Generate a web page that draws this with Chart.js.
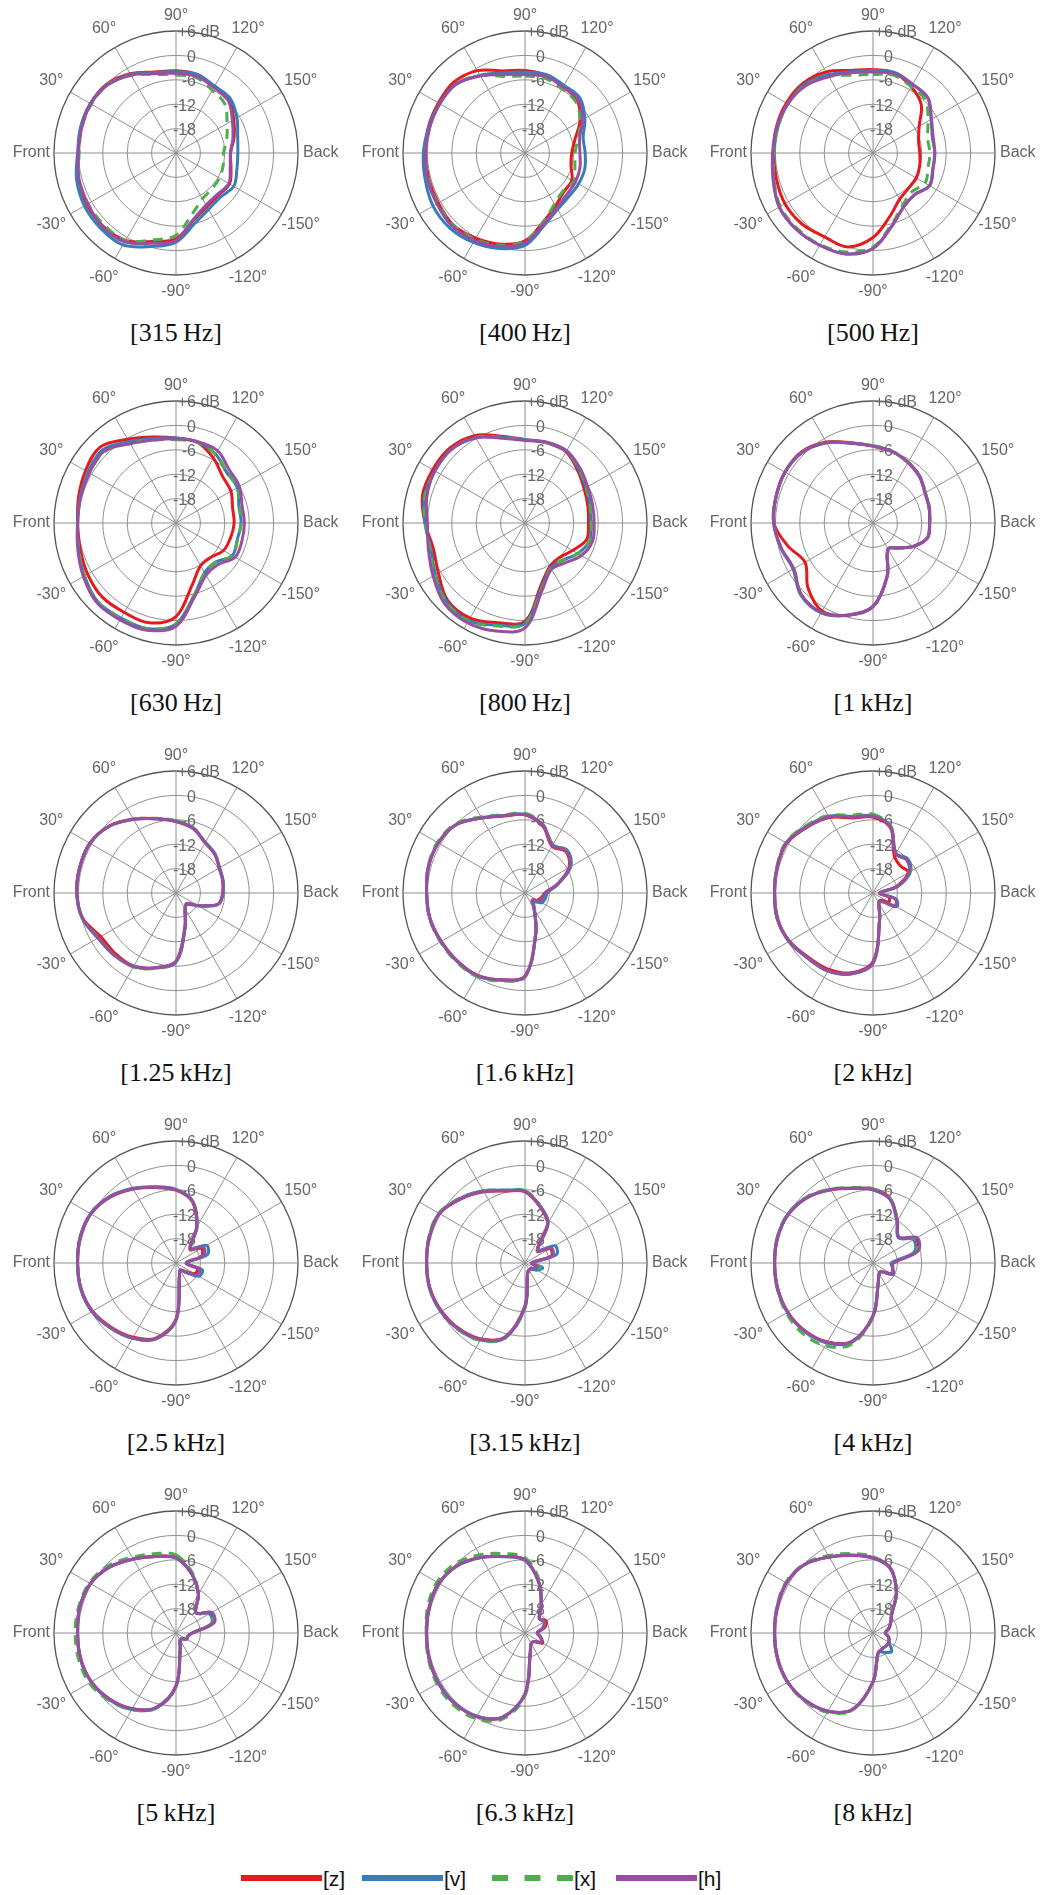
<!DOCTYPE html>
<html>
<head>
<meta charset="utf-8">
<script src="https://cdn.jsdelivr.net/npm/chart.js@4.4.1/dist/chart.umd.min.js"></script>
<style>
  html, body { margin: 0; padding: 0; background: #fff; }
  body { width: 1045px; height: 1895px; position: relative; overflow: hidden; }
  canvas.polar { position: absolute; }
  .title { position: absolute; width: 300px; text-align: center; font-family: "Liberation Serif", "Times New Roman", serif; font-size: 26px; line-height: 30px; color: #111; white-space: nowrap; }
  #legend { position: absolute; left: 0; top: 1858px; }
</style>
</head>
<body>
<svg id="legend" width="1045" height="37"></svg>
<script>
// Measurement directions in degrees, clockwise from the top of each plot
const angles = [90, 105, 120, 135, 150, 165, 180, -165, -150, -135, -120, -105, -90, -75, -60, -45, -30, -15, 0, 15, 30, 45, 60, 75];
// Radial rings in dB
const ringValues = [6, 0, -6, -12, -18];
const ringText = ['+6', '0', '-6', '-12', '-18'];
const bands = ['315\u2009Hz', '400\u2009Hz', '500\u2009Hz', '630\u2009Hz', '800\u2009Hz', '1\u2009kHz', '1.25\u2009kHz', '1.6\u2009kHz', '2\u2009kHz', '2.5\u2009kHz', '3.15\u2009kHz', '4\u2009kHz', '5\u2009kHz', '6.3\u2009kHz', '8\u2009kHz'];
const seriesNames = ['[z]', '[v]', '[x]', '[h]'];

// Level per direction (dB), one array per band and axis
const f315_z = [-3.8, -4.0, -5.2, -5.5, -7.6, -9.2, -10.6, -10.0, -8.8, -9.3, -8.8, -7.0, -2.9, -1.5, 0.8, 1.4, 1.3, 0.8, 0.0, 0.2, 0.3, 0.0, -1.5, -3.4];
const f315_v = [-4.0, -4.0, -5.0, -5.1, -6.7, -8.3, -8.8, -8.5, -7.6, -8.6, -8.0, -6.1, -2.1, -0.2, 2.1, 2.2, 2.0, 1.3, 0.2, 0.3, 0.3, -0.2, -1.7, -3.5];
const f315_x = [-4.8, -4.8, -6.2, -7.0, -9.5, -11.1, -12.3, -12.0, -11.7, -11.5, -11.0, -8.5, -3.8, -1.9, 0.8, 1.0, 1.0, 0.7, -0.2, 0.0, 0.0, -0.2, -1.9, -4.0];
const f315_h = [-4.4, -4.5, -5.4, -5.8, -8.0, -9.5, -10.6, -10.2, -9.0, -9.6, -9.2, -7.2, -2.5, -1.0, 1.2, 1.6, 1.0, 0.7, 0.0, 0.0, 0.2, -0.3, -1.9, -3.8];

const f400_z = [-3.7, -4.2, -5.2, -5.8, -8.4, -11.3, -12.5, -12.3, -10.7, -10.5, -9.0, -6.5, -2.4, -0.8, 0.2, 1.0, 0.6, 0.5, 0.5, 0.6, 0.6, 0.7, -0.6, -3.1];
const f400_v = [-4.1, -4.0, -4.8, -4.9, -7.0, -9.2, -9.2, -8.8, -8.8, -8.8, -8.0, -5.6, -1.3, 0.3, 1.4, 2.1, 2.1, 1.4, 1.0, 0.5, 0.3, -0.1, -1.9, -3.6];
const f400_x = [-5.1, -5.0, -5.8, -6.3, -8.3, -10.5, -11.7, -11.3, -10.1, -10.8, -9.5, -6.5, -2.4, -0.5, 0.5, 1.0, 0.8, 0.6, 0.5, 0.3, 0.2, 0.0, -2.0, -4.5];
const f400_h = [-4.7, -4.5, -5.3, -5.4, -7.7, -10.1, -10.5, -10.0, -9.7, -9.5, -8.4, -6.0, -1.9, -0.2, 0.8, 1.4, 1.0, 0.8, 0.5, 0.3, 0.2, 0.0, -2.1, -4.0];

const f500_z = [-3.5, -3.6, -5.2, -7.2, -10.9, -12.4, -12.5, -12.1, -11.7, -11.7, -10.9, -7.9, -3.2, -0.1, -0.2, 0.7, 1.0, 0.6, 0.4, 0.6, 0.6, 0.3, -1.0, -3.0];
const f500_v = [-3.7, -3.5, -4.5, -4.9, -7.5, -8.9, -8.8, -8.8, -8.0, -9.5, -8.8, -5.6, -0.5, 1.7, 2.2, 2.6, 2.6, 1.4, 0.4, 0.3, 0.2, -0.2, -1.8, -3.3];
const f500_x = [-4.7, -4.2, -5.2, -5.7, -8.4, -10.1, -10.0, -10.0, -9.2, -10.5, -9.3, -6.0, -0.9, 1.2, 2.0, 2.3, 2.3, 1.2, 0.4, 0.2, 0.2, -0.4, -2.3, -4.2];
const f500_h = [-4.1, -3.8, -4.5, -4.9, -7.4, -8.7, -8.8, -8.7, -7.9, -9.5, -8.8, -5.6, -0.5, 1.7, 2.2, 2.6, 2.6, 1.4, 0.7, 0.5, 0.2, -0.6, -2.3, -3.6];

const f630_z = [-3.1, -3.5, -5.6, -7.8, -8.4, -9.6, -9.7, -10.1, -10.5, -12.0, -11.9, -8.4, -1.0, 1.4, 1.4, 1.7, 1.1, 0.4, 0.2, 0.8, 1.7, 2.4, -0.2, -2.1];
const f630_v = [-3.1, -3.4, -4.5, -6.4, -6.6, -8.0, -8.0, -8.4, -8.0, -10.3, -9.9, -6.0, 0.8, 2.9, 3.0, 3.3, 2.0, 0.8, 0.2, 0.4, 1.0, 1.5, -0.9, -2.5];
const f630_x = [-3.5, -3.5, -4.5, -6.2, -6.6, -7.8, -8.0, -8.3, -8.0, -10.3, -9.9, -6.0, 0.8, 2.9, 3.0, 3.3, 2.0, 0.8, 0.2, 0.3, 0.6, 0.8, -1.4, -2.9];
const f630_h = [-3.3, -3.3, -3.5, -5.5, -6.0, -7.2, -7.2, -7.2, -7.2, -9.5, -9.2, -5.6, 1.4, 3.3, 3.5, 3.6, 2.3, 1.0, 0.2, 0.3, 0.6, 1.0, -1.5, -2.9];

const f800_z = [-3.5, -3.6, -3.8, -5.7, -7.2, -8.0, -8.4, -8.3, -10.5, -12.0, -11.7, -8.4, 0.2, 1.4, 3.0, 2.9, 0.6, -0.6, 0.6, 2.1, 2.2, 2.1, 0.8, -1.9];
const f800_v = [-3.5, -3.5, -3.6, -5.3, -6.7, -7.5, -7.8, -7.5, -9.0, -11.0, -11.3, -7.8, 0.6, 2.0, 3.7, 3.3, 1.4, 0.0, 0.6, 1.6, 1.6, 1.6, 0.2, -2.2];
const f800_x = [-3.6, -3.5, -3.6, -5.2, -6.6, -7.4, -7.7, -7.5, -9.0, -11.0, -11.2, -7.7, 0.8, 2.2, 3.8, 3.5, 1.6, 0.2, 0.5, 1.5, 1.6, 1.6, 0.3, -2.2];
const f800_h = [-3.7, -3.4, -3.5, -4.9, -6.2, -6.8, -7.0, -6.8, -8.0, -10.1, -10.9, -7.2, 1.8, 3.5, 4.3, 4.0, 2.1, 0.6, 0.0, 1.0, 1.6, 1.6, 0.2, -2.4];

const f1k_z = [-5.1, -5.8, -6.8, -7.8, -9.2, -9.7, -10.1, -10.1, -12.5, -15.3, -16.6, -10.5, -3.4, -0.5, 1.0, -1.4, -4.7, -2.3, 0.4, 0.7, 1.0, 0.8, -1.0, -3.6];
const f1k_v = [-5.0, -5.8, -6.8, -7.8, -9.2, -9.7, -10.1, -10.1, -12.5, -15.3, -16.6, -10.5, -3.5, -0.5, 1.5, 1.1, -1.3, -0.5, 0.4, 0.7, 1.0, 0.6, -1.2, -3.7];
const f1k_x = [-5.0, -5.7, -6.7, -7.7, -9.1, -9.6, -10.0, -10.1, -12.5, -15.3, -16.6, -10.5, -3.5, -0.6, 1.4, 0.9, -1.5, -0.6, 0.4, 0.7, 1.0, 0.6, -1.2, -3.7];
const f1k_h = [-5.1, -5.8, -6.8, -7.8, -9.2, -9.7, -10.1, -10.1, -12.5, -15.3, -16.6, -10.5, -3.5, -0.6, 1.4, 0.9, -1.5, -0.6, 0.4, 0.7, 1.0, 0.6, -1.2, -3.7];

const f1250_z = [-6.4, -7.6, -9.7, -10.5, -11.7, -12.1, -12.5, -13.3, -17.9, -20.3, -19.5, -15.4, -7.2, -5.0, -3.2, -2.9, -2.6, -0.2, 0.4, 0.5, 0.5, -0.7, -3.0, -5.1];
const f1250_v = [-6.3, -7.5, -9.6, -10.4, -11.6, -12.0, -12.4, -13.2, -17.6, -20.0, -19.5, -15.2, -7.0, -4.9, -3.1, -2.4, -1.8, -0.1, 0.4, 0.5, 0.4, -0.8, -3.1, -5.1];
const f1250_x = [-6.2, -7.4, -9.6, -10.4, -11.7, -12.1, -12.5, -13.3, -17.9, -20.3, -19.6, -15.4, -7.1, -4.8, -3.0, -2.5, -2.0, -0.2, 0.4, 0.5, 0.4, -0.8, -3.0, -5.0];
const f1250_h = [-6.4, -7.6, -9.7, -10.5, -11.7, -12.1, -12.5, -13.3, -17.9, -20.3, -19.5, -15.4, -7.2, -5.0, -3.2, -2.5, -1.9, -0.2, 0.4, 0.5, 0.4, -0.8, -3.1, -5.1];

const f1600_z = [-4.8, -7.0, -10.7, -9.7, -11.5, -15.8, -19.1, -19.8, -20.5, -21.5, -19.5, -13.8, -3.6, -1.9, -0.6, -0.4, -0.2, 0.2, 0.2, 0.6, 0.6, -0.2, -2.7, -4.4];
const f1600_v = [-4.7, -6.8, -10.3, -9.2, -11.0, -15.6, -18.5, -18.8, -19.2, -20.8, -19.3, -13.6, -3.5, -1.8, -0.5, -0.3, -0.1, 0.2, 0.2, 0.6, 0.7, -0.1, -2.6, -4.3];
const f1600_x = [-4.4, -6.6, -10.3, -9.4, -11.3, -15.8, -19.1, -19.6, -20.0, -21.5, -19.5, -13.8, -3.3, -1.6, -0.3, -0.1, 0.0, 0.3, 0.2, 0.7, 0.9, 0.1, -2.4, -4.1];
const f1600_h = [-4.7, -6.8, -10.5, -9.5, -11.3, -15.8, -19.1, -19.5, -20.0, -21.5, -19.5, -13.8, -3.5, -1.9, -0.6, -0.4, -0.2, 0.2, 0.2, 0.6, 0.6, -0.2, -2.7, -4.3];

const f2k_z = [-5.3, -7.4, -13.5, -14.5, -14.0, -18.2, -22.4, -20.0, -19.5, -21.5, -21.1, -17.6, -7.1, -3.7, -2.3, -1.6, -0.3, 0.3, 0.2, 0.4, 0.5, -1.1, -2.6, -4.9];
const f2k_v = [-5.0, -7.1, -12.7, -12.0, -13.3, -17.6, -22.0, -18.0, -17.3, -21.0, -21.1, -17.6, -6.7, -3.4, -1.8, -1.3, -0.1, 0.4, 0.2, 0.4, 0.7, -0.8, -2.2, -4.5];
const f2k_x = [-4.6, -7.0, -12.9, -12.4, -13.6, -17.9, -22.4, -18.5, -17.8, -21.0, -21.1, -17.6, -6.8, -3.5, -1.9, -1.4, -0.2, 0.4, 0.2, 0.5, 0.8, -0.6, -2.0, -4.2];
const f2k_h = [-5.1, -7.2, -12.9, -12.4, -13.8, -17.9, -22.4, -18.3, -17.6, -21.0, -21.1, -17.6, -6.8, -3.5, -1.9, -1.4, -0.2, 0.4, 0.2, 0.4, 0.6, -1.0, -2.4, -4.7];

const f2500_z = [-6.1, -8.4, -13.9, -19.2, -16.8, -17.5, -21.5, -18.5, -18.8, -21.2, -22.0, -20.7, -10.2, -4.9, -2.9, -1.6, -0.3, 0.2, 0.2, 0.4, 0.2, -1.1, -3.0, -4.8];
const f2500_v = [-5.9, -8.2, -13.6, -18.8, -15.3, -16.0, -21.3, -17.3, -17.5, -20.8, -22.0, -20.7, -9.9, -4.6, -2.6, -1.3, -0.1, 0.3, 0.2, 0.4, 0.3, -0.9, -2.8, -4.6];
const f2500_x = [-6.0, -8.3, -13.8, -19.0, -16.2, -17.0, -21.5, -17.9, -18.3, -21.0, -22.0, -20.7, -10.0, -4.7, -2.7, -1.4, -0.2, 0.2, 0.2, 0.4, 0.2, -1.0, -2.9, -4.7];
const f2500_h = [-6.0, -8.3, -13.8, -19.0, -16.2, -17.0, -21.5, -17.9, -18.3, -21.0, -22.0, -20.7, -10.0, -4.7, -2.7, -1.4, -0.2, 0.2, 0.2, 0.4, 0.2, -1.0, -2.9, -4.7];

const f3150_z = [-6.5, -9.7, -12.9, -19.8, -16.9, -17.3, -22.4, -20.5, -21.3, -22.0, -22.0, -21.5, -13.5, -5.2, -2.4, -1.1, -0.3, 0.2, 0.2, 0.4, 0.3, -1.7, -3.8, -5.7];
const f3150_v = [-6.3, -9.5, -12.6, -19.3, -15.5, -16.0, -22.0, -19.5, -20.5, -21.8, -22.0, -21.5, -13.1, -4.9, -2.1, -0.9, -0.1, 0.3, 0.2, 0.4, 0.4, -1.5, -3.5, -5.5];
const f3150_x = [-6.2, -9.5, -12.8, -19.6, -16.6, -17.0, -22.4, -20.1, -21.0, -22.0, -22.0, -21.5, -13.0, -4.8, -2.0, -0.8, -0.1, 0.3, 0.2, 0.5, 0.5, -1.4, -3.5, -5.4];
const f3150_h = [-6.4, -9.6, -12.8, -19.6, -16.6, -17.0, -22.4, -20.8, -21.5, -22.0, -22.0, -21.5, -13.3, -5.1, -2.3, -1.0, -0.2, 0.2, 0.2, 0.4, 0.3, -1.6, -3.7, -5.6];

const f4k_z = [-5.8, -7.6, -12.0, -15.0, -11.8, -12.8, -19.0, -19.0, -18.8, -21.0, -21.0, -19.0, -11.0, -4.0, -1.6, -0.4, 0.2, 0.3, 0.2, 0.3, 0.0, -1.2, -3.2, -5.0];
const f4k_v = [-6.0, -7.8, -12.2, -15.2, -12.5, -13.5, -19.5, -19.0, -18.2, -21.0, -21.0, -19.0, -11.0, -3.8, -1.3, -0.2, 0.3, 0.3, 0.2, 0.3, 0.1, -1.1, -3.1, -5.0];
const f4k_x = [-5.7, -7.6, -12.0, -15.0, -12.0, -13.0, -19.0, -19.0, -18.5, -21.0, -21.0, -19.0, -10.8, -3.2, -0.5, 0.5, 0.6, 0.4, 0.2, 0.4, 0.2, -1.0, -3.0, -4.8];
const f4k_h = [-6.0, -7.8, -12.2, -15.0, -11.5, -12.5, -19.0, -19.0, -18.5, -21.0, -21.0, -19.0, -11.0, -4.0, -1.5, -0.3, 0.2, 0.3, 0.2, 0.3, 0.0, -1.2, -3.2, -5.0];

const f5k_z = [-5.5, -9.0, -13.0, -17.0, -14.0, -14.5, -20.0, -21.0, -21.0, -22.0, -22.0, -20.0, -11.0, -5.0, -2.5, -1.0, 0.0, 0.3, 0.2, 0.5, 0.3, -1.0, -3.0, -4.5];
const f5k_v = [-5.6, -9.0, -13.0, -17.0, -14.5, -15.0, -20.0, -21.0, -21.0, -22.0, -22.0, -20.0, -10.8, -4.8, -2.3, -0.8, 0.1, 0.4, 0.2, 0.5, 0.3, -1.0, -3.0, -4.5];
const f5k_x = [-4.8, -8.6, -13.0, -17.0, -14.2, -14.8, -20.0, -21.0, -21.0, -22.0, -22.0, -20.0, -10.8, -4.8, -2.2, -0.6, 0.6, 0.8, 0.8, 0.8, 0.6, -0.5, -2.5, -3.8];
const f5k_h = [-5.5, -9.0, -13.0, -17.0, -13.8, -14.3, -20.0, -21.0, -21.0, -22.0, -22.0, -20.0, -11.0, -5.0, -2.5, -1.0, 0.0, 0.3, 0.2, 0.5, 0.3, -1.0, -3.0, -4.5];

const f6300_z = [-6.0, -11.0, -16.0, -19.0, -18.0, -19.0, -21.0, -20.0, -19.0, -21.0, -21.0, -19.0, -9.0, -2.5, -0.3, 0.5, 0.6, 0.4, 0.2, 0.4, 0.5, -0.5, -2.5, -4.5];
const f6300_v = [-6.2, -11.0, -16.0, -19.0, -18.5, -19.5, -21.0, -20.0, -19.5, -21.0, -21.0, -19.0, -9.0, -2.6, -0.4, 0.4, 0.5, 0.4, 0.2, 0.4, 0.4, -0.6, -2.6, -4.6];
const f6300_x = [-5.5, -10.5, -16.0, -19.0, -18.5, -19.5, -21.0, -20.0, -19.5, -21.0, -21.0, -19.0, -8.5, -2.0, 0.3, 1.0, 1.0, 0.6, 0.3, 0.8, 1.0, 0.2, -1.8, -3.8];
const f6300_h = [-6.0, -11.0, -16.0, -19.0, -18.5, -19.5, -21.0, -20.0, -19.5, -21.0, -21.0, -19.0, -9.0, -2.5, -0.3, 0.5, 0.6, 0.4, 0.2, 0.4, 0.5, -0.5, -2.5, -4.5];

const f8k_z = [-5.5, -7.5, -12.5, -17.5, -19.0, -20.0, -21.0, -20.0, -19.5, -19.5, -19.5, -19.0, -12.0, -4.5, -1.8, -0.5, 0.2, 0.3, 0.2, 0.4, 0.6, -0.2, -2.4, -4.2];
const f8k_v = [-5.6, -7.6, -12.5, -17.5, -19.0, -20.0, -21.0, -20.0, -19.5, -17.5, -18.5, -19.0, -12.0, -4.5, -1.8, -0.5, 0.2, 0.3, 0.2, 0.4, 0.6, -0.2, -2.4, -4.2];
const f8k_x = [-5.2, -7.4, -12.5, -17.5, -19.0, -20.0, -21.0, -20.0, -19.5, -19.5, -19.5, -19.0, -12.0, -4.3, -1.5, -0.3, 0.3, 0.4, 0.2, 0.5, 0.8, 0.0, -2.0, -3.8];
const f8k_h = [-5.5, -7.5, -12.5, -17.5, -19.0, -20.0, -21.0, -20.0, -19.5, -19.5, -19.5, -19.0, -12.0, -4.5, -1.8, -0.5, 0.2, 0.3, 0.2, 0.4, 0.6, -0.2, -2.4, -4.2];

const bandZ = [f315_z, f400_z, f500_z, f630_z, f800_z, f1k_z, f1250_z, f1600_z, f2k_z, f2500_z, f3150_z, f4k_z, f5k_z, f6300_z, f8k_z];
const bandV = [f315_v, f400_v, f500_v, f630_v, f800_v, f1k_v, f1250_v, f1600_v, f2k_v, f2500_v, f3150_v, f4k_v, f5k_v, f6300_v, f8k_v];
const bandX = [f315_x, f400_x, f500_x, f630_x, f800_x, f1k_x, f1250_x, f1600_x, f2k_x, f2500_x, f3150_x, f4k_x, f5k_x, f6300_x, f8k_x];
const bandH = [f315_h, f400_h, f500_h, f630_h, f800_h, f1k_h, f1250_h, f1600_h, f2k_h, f2500_h, f3150_h, f4k_h, f5k_h, f6300_h, f8k_h];

// Styling
const RED = '#e41a1c', BLUE = '#377eb8', GREEN = '#4daf4a', PURPLE = '#984ea3';
const seriesColors = [RED, BLUE, GREEN, PURPLE];
const seriesDash = [[], [], [10, 7], []];
const LABEL_GRAY = '#666666';
const GRID_GRAY = '#8f8f8f';
const OUTER_GRAY = '#555555';
const LABEL_FONT = '16px "Liberation Sans", Arial, Helvetica, sans-serif';

// Page layout of the 3 x 5 grid of plots
const colCenters = [176, 525, 873];
const rowCenters = [153, 523, 893, 1263, 1633];
const CANVAS_W = 340, CANVAS_H = 320, RADIUS = 122;
const PAD_X = (CANVAS_W - 2 * RADIUS) / 2, PAD_Y = (CANVAS_H - 2 * RADIUS) / 2;

function angleText(a) {
  if (a === 0) return 'Front';
  if (a === 180) return 'Back';
  return a + '\u00b0';
}
const angleLabels = angles.map(a => (a % 30 === 0 ? angleText(a) : ''));

// Ring and direction labels drawn onto the radial scale
const polarLabels = {
  id: 'polarLabels',
  beforeDatasetsDraw(chart) {
    const s = chart.scales.r;
    const ctx = chart.ctx;
    const R = s.drawingArea;
    ctx.save();
    ctx.font = LABEL_FONT;
    ctx.fillStyle = LABEL_GRAY;
    ctx.textBaseline = 'middle';
    ringValues.forEach((v, i) => {
      const y = s.yCenter - s.getDistanceFromCenterForValue(v) + 2;
      const xr = s.xCenter + 20;
      ctx.textAlign = 'right';
      ctx.fillText(ringText[i], xr, y);
      if (i === 0) {
        ctx.textAlign = 'left';
        ctx.fillText(' dB', xr, y);
      }
    });
    chart.data.labels.forEach((lab, i) => {
      if (!lab) return;
      const a = angles[i];
      let dist = R + 22, align = 'center';
      if (a === 0) { dist = R + 4; align = 'right'; }
      else if (a === 180) { dist = R + 5; align = 'left'; }
      else if (a === 90) { dist = R + 15; }
      else if (a === -90) { dist = R + 17; }
      const p = s.getPointPosition(i, dist);
      ctx.textAlign = align;
      ctx.fillText(lab, p.x, p.y);
    });
    ctx.restore();
  }
};

bands.forEach((band, b) => {
  const cx = colCenters[b % 3];
  const cy = rowCenters[Math.floor(b / 3)];
  const canvas = document.createElement('canvas');
  canvas.className = 'polar';
  canvas.width = CANVAS_W;
  canvas.height = CANVAS_H;
  canvas.style.left = (cx - CANVAS_W / 2) + 'px';
  canvas.style.top = (cy - CANVAS_H / 2) + 'px';
  document.body.appendChild(canvas);

  const title = document.createElement('div');
  title.className = 'title';
  title.textContent = '[' + band + ']';
  title.style.left = (cx - 150) + 'px';
  title.style.top = (cy + 180 - 15) + 'px';
  document.body.appendChild(title);

  const seriesData = [bandZ[b], bandV[b], bandX[b], bandH[b]];
  const drawOrder = [3, 2, 1, 0];
  new Chart(canvas, {
    type: 'radar',
    data: {
      labels: angleLabels,
      datasets: seriesData.map((d, k) => ({
        label: seriesNames[k],
        data: d,
        borderColor: seriesColors[k],
        backgroundColor: 'rgba(0,0,0,0)',
        borderDash: seriesDash[k],
        borderWidth: 3,
        fill: false,
        tension: 0.35,
        pointRadius: 0,
        pointHoverRadius: 0,
        order: drawOrder[k]
      }))
    },
    options: {
      responsive: false,
      animation: false,
      devicePixelRatio: 1,
      events: [],
      layout: { padding: { left: PAD_X, right: PAD_X, top: PAD_Y, bottom: PAD_Y } },
      plugins: { legend: { display: false }, tooltip: { enabled: false } },
      scales: {
        r: {
          min: -24,
          max: 6,
          startAngle: 0,
          ticks: { display: false, stepSize: 6 },
          pointLabels: { display: false },
          grid: {
            circular: true,
            color: ctx => (ctx.tick && ctx.tick.value === 6 ? OUTER_GRAY : GRID_GRAY),
            lineWidth: ctx => (ctx.tick && ctx.tick.value === 6 ? 1.3 : 1)
          },
          angleLines: {
            color: ctx => (ctx.index % 2 === 0 ? GRID_GRAY : 'rgba(0,0,0,0)'),
            lineWidth: 1
          }
        }
      }
    },
    plugins: [polarLabels]
  });
});

// Legend row
(function drawLegend() {
  const svg = document.getElementById('legend');
  const ns = 'http://www.w3.org/2000/svg';
  const starts = [241, 362, 492, 616];
  seriesNames.forEach((name, k) => {
    const line = document.createElementNS(ns, 'line');
    line.setAttribute('x1', starts[k]);
    line.setAttribute('x2', starts[k] + 81);
    line.setAttribute('y1', 20);
    line.setAttribute('y2', 20);
    line.setAttribute('stroke', seriesColors[k]);
    line.setAttribute('stroke-width', 6);
    if (seriesDash[k].length) line.setAttribute('stroke-dasharray', '16 16.5');
    svg.appendChild(line);
    const t = document.createElementNS(ns, 'text');
    t.setAttribute('x', starts[k] + 82);
    t.setAttribute('y', 28);
    t.setAttribute('font-family', '"Liberation Sans", Arial, sans-serif');
    t.setAttribute('font-size', '21');
    t.setAttribute('fill', '#111');
    t.textContent = name;
    svg.appendChild(t);
  });
})();
</script>
</body>
</html>
